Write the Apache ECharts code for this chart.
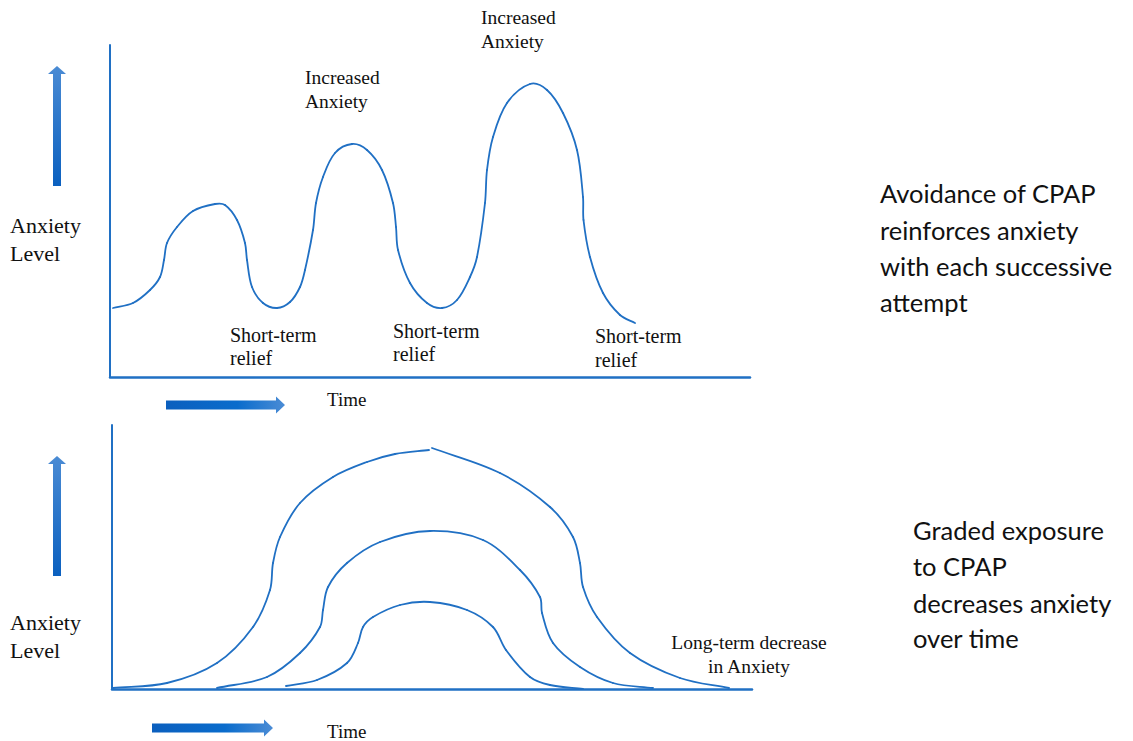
<!DOCTYPE html>
<html>
<head>
<meta charset="utf-8">
<script src="https://cdn.jsdelivr.net/npm/echarts@6/dist/echarts.min.js"></script>
<style>
html,body{margin:0;padding:0;background:#fff;}
#chart{width:1133px;height:741px;}
#chart text{font-variant-ligatures:none;font-feature-settings:"liga" 0,"clig" 0;}
</style>
</head>
<body>
<div id="chart"></div>
<script>
// ---- Data (x = time units, y = anxiety units) ----
// Top panel: avoidance cycle, one continuous curve
var avoidanceCurve = [
  [3,69],[23,74],[40,87],[50,100],[54,117],[57,134],[67,150],[83,166],[105,173],[115,172],
  [127,157],[135,134],[137,117],[142,90],[153,74],[167,69],[180,75],[190,90],[195,107],
  [203,147],[206,174],[213,200],[225,224],[242,233],[257,227],[272,207],[283,174],[286,150],
  [288,127],[300,94],[317,74],[332,69],[347,77],[360,100],[367,120],[375,174],[377,207],
  [383,240],[397,274],[420,293],[437,287],[453,264],[467,227],[473,180],[473.5,157],
  [480,120],[493,84],[510,62],[525,54]
];
// Bottom panel: graded exposure, three successively smaller arcs (outer one has a tiny break at its top)
var exposureOuterRise = [
  [1,1],[55,6],[105,26],[141,62],[158,99],[161,126],[168,152],[188,186],[221,212],
  [255,227],[283,235],[317,239]
];
var exposureOuterFall = [
  [320,241],[388,216],[438,182],[461,152],[468,126],
  [471,102],[485,72],[518,36],[568,11],[617,1]
];
var exposureMiddle = [
  [105,1],[155,12],[188,36],[208,62],[211,79],[216,102],[235,126],[268,147],[318,158],
  [371,149],[408,119],[428,92],[430,76],[441,46],[468,22],[501,6],[541,1]
];
var exposureInner = [
  [174,3],[205,9],[235,26],[246,46],[251,62],[261,72],[288,84],[318,87],[355,79],
  [381,62],[394,39],[418,12],[438,4],[471,0]
];
// Text content
var axisYTitle = ['Anxiety', 'Level'];
var axisXTitle = 'Time';
var peakLabel = ['Increased', 'Anxiety'];
var troughLabel = ['Short-term', 'relief'];
var outcomeLabel = ['Long-term decrease', 'in Anxiety'];
var topCaption = ['Avoidance of CPAP', 'reinforces anxiety', 'with each successive', 'attempt'];
var bottomCaption = ['Graded exposure', 'to CPAP', 'decreases anxiety', 'over time'];

// ---- Styles ----
var BLUE = '#2070c4';
var SERIF = '"Liberation Serif","DejaVu Serif",serif';
var SANS = 'Lato,"Open Sans","Noto Sans",sans-serif';

function axisPair(gi, xmax, ymax) {
  return {
    x: {type:'value', gridIndex:gi, min:0, max:xmax, axisLine:{show:true, onZero:false, lineStyle:{color:BLUE, width:2.5}},
        axisTick:{show:false}, axisLabel:{show:false}, splitLine:{show:false}},
    y: {type:'value', gridIndex:gi, min:0, max:ymax, axisLine:{show:true, onZero:false, lineStyle:{color:BLUE, width:2}},
        axisTick:{show:false}, axisLabel:{show:false}, splitLine:{show:false}}
  };
}
var a0 = axisPair(0, 640, 332), a1 = axisPair(1, 640, 264);

function unit(a, b) {
  var dx = b[0]-a[0], dy = b[1]-a[1], l = Math.sqrt(dx*dx+dy*dy) || 1;
  return [dx/l, dy/l];
}
// Smooth curve through the data points (tangent-based cubic segments; positions from the axes' scales)
function curve(data, xi) {
  return {
    type:'custom', xAxisIndex:xi, yAxisIndex:xi, data:data, silent:true, clip:false,
    encode:{x:0, y:1},
    renderItem:function(params, api) {
      var i = params.dataIndex, n = data.length;
      if (i >= n - 1) return null;
      var p0 = api.coord(data[Math.max(i-1,0)]), p1 = api.coord(data[i]),
          p2 = api.coord(data[i+1]), p3 = api.coord(data[Math.min(i+2,n-1)]);
      var dx = p2[0]-p1[0], dy = p2[1]-p1[1], d = Math.sqrt(dx*dx+dy*dy) / 3;
      var t1 = unit(p0, p2), t2 = unit(p1, p3);
      return {
        type:'bezierCurve',
        shape:{x1:p1[0], y1:p1[1], x2:p2[0], y2:p2[1],
               cpx1:p1[0] + t1[0]*d, cpy1:p1[1] + t1[1]*d,
               cpx2:p2[0] - t2[0]*d, cpy2:p2[1] - t2[1]*d},
        style:{stroke:BLUE, lineWidth:1.8, fill:null, lineCap:'round'}
      };
    }
  };
}

function txt(str, x, y, size, family, align) {
  return {type:'text', x:x, y:y, silent:true,
          style:{text:str, fill:'#111', font:size + 'px ' + family, textAlign:align || 'left', textVerticalAlign:'middle'}};
}

function vArrow(cx, tip, base, bottom) {
  return {type:'polygon', silent:true,
    shape:{points:[[cx-4,bottom],[cx-4,base],[cx-9,base],[cx,tip],[cx+9,base],[cx+4,base],[cx+4,bottom]]},
    style:{fill:{type:'linear', x:0, y:0, x2:0, y2:1, colorStops:[{offset:0,color:'#4a8bd4'},{offset:1,color:'#0b60bf'}]}}};
}
function hArrow(cy, left, base, tip) {
  return {type:'polygon', silent:true,
    shape:{points:[[left,cy-4.5],[base,cy-4.5],[base,cy-8.5],[tip,cy],[base,cy+8.5],[base,cy+4.5],[left,cy+4.5]]},
    style:{fill:{type:'linear', x:0, y:0, x2:1, y2:0, colorStops:[{offset:0,color:'#0b5fbe'},{offset:0.6,color:'#0a6ccc'},{offset:1,color:'#4b8cd5'}]}}};
}

var graphics = [
  vArrow(57, 66, 74, 186), vArrow(57, 456, 464, 576),
  hArrow(405, 166, 276, 285), hArrow(728, 152, 264, 273),
  txt(axisYTitle[0], 10, 225, 22, SERIF), txt(axisYTitle[1], 10, 253, 22, SERIF),
  txt(axisYTitle[0], 10, 622, 22, SERIF), txt(axisYTitle[1], 10, 650, 22, SERIF),
  txt(axisXTitle, 327, 399, 19, SERIF), txt(axisXTitle, 327, 731, 19, SERIF),
  txt(peakLabel[0], 305, 77, 19.5, SERIF), txt(peakLabel[1], 305, 101, 19.5, SERIF),
  txt(peakLabel[0], 481, 17, 19.5, SERIF), txt(peakLabel[1], 481, 41, 19.5, SERIF),
  txt(troughLabel[0], 230, 335, 20, SERIF), txt(troughLabel[1], 230, 358, 20, SERIF),
  txt(troughLabel[0], 393, 331, 20, SERIF), txt(troughLabel[1], 393, 354, 20, SERIF),
  txt(troughLabel[0], 595, 336, 20, SERIF), txt(troughLabel[1], 595, 360, 20, SERIF),
  txt(outcomeLabel[0], 749, 642, 19.5, SERIF, 'center'), txt(outcomeLabel[1], 749, 666, 19.5, SERIF, 'center')
];
var capTopY = [193, 230, 266, 302], capBotY = [530, 566, 603, 638];
topCaption.forEach(function(s, i){ graphics.push(txt(s, 880, capTopY[i], 25.5, SANS)); });
bottomCaption.forEach(function(s, i){ graphics.push(txt(s, 913, capBotY[i], 25.5, SANS)); });

var chart = echarts.init(document.getElementById('chart'), null, {renderer:'svg'});
chart.setOption({
  animation:false,
  backgroundColor:'#fff',
  grid:[
    {left:110, top:45, width:640, height:332},
    {left:112, top:425, width:640, height:264}
  ],
  xAxis:[a0.x, a1.x],
  yAxis:[a0.y, a1.y],
  series:[
    curve(avoidanceCurve, 0),
    curve(exposureOuterRise, 1),
    curve(exposureOuterFall, 1),
    curve(exposureMiddle, 1),
    curve(exposureInner, 1)
  ],
  graphic:graphics
});
</script>
</body>
</html>
